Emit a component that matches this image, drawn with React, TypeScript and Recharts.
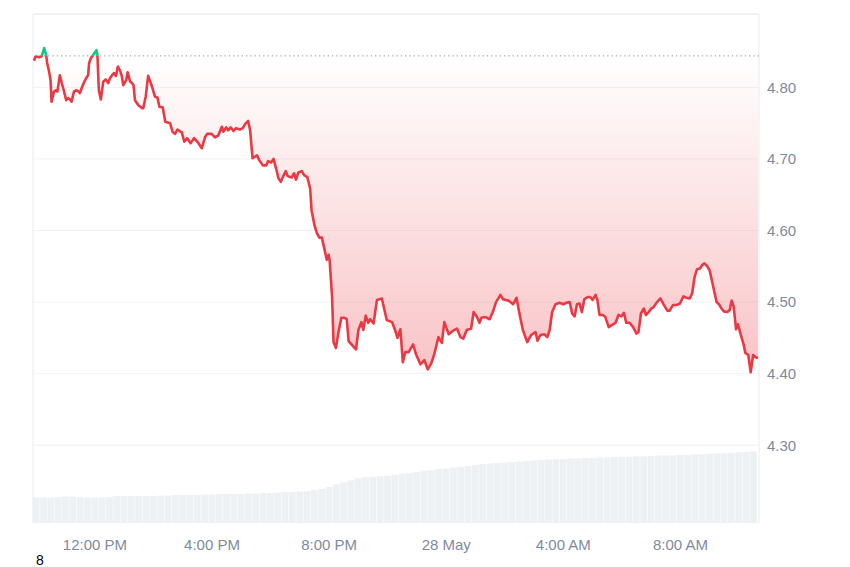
import { ComposedChart, BarChart, Line, Area, Bar, XAxis, YAxis, CartesianGrid, ReferenceLine } from "recharts";

const FONT = '"Liberation Sans", Arial, Helvetica, sans-serif';
const RED = '#ea3943';
const GREEN = '#16c784';
const AXIS_TEXT = '#808a9d';
const GRID = '#eff2f5';

// minutes since 00:00, 27 May
const priceTimes = [
    595, 598, 602, 605, 609, 611, 616, 620, 622, 626,
    629, 631, 636, 640, 643, 648, 652, 656, 661, 665,
    669, 672, 677, 681, 685, 689, 693, 697, 702, 706,
    708, 712, 716, 723, 725, 728, 732, 737, 742, 747,
    751, 755, 759, 763, 767, 771, 775, 778, 784, 787,
    792, 796, 799, 802, 809, 816, 819, 824, 829, 836,
    843, 848, 852, 859, 864, 874, 879, 884, 889, 898,
    903, 909, 916, 923, 930, 939, 946, 950, 959, 966,
    973, 980, 983, 989, 993, 998, 1004, 1009, 1017, 1023,
    1028, 1034, 1038, 1043, 1052, 1057, 1064, 1071, 1075, 1081,
    1086, 1093, 1096, 1101, 1106, 1111, 1115, 1123, 1128, 1132,
    1137, 1144, 1149, 1155, 1161, 1164, 1170, 1175, 1180, 1185,
    1190, 1195, 1199, 1201, 1206, 1209, 1214, 1219, 1225, 1231,
    1236, 1240, 1247, 1255, 1260, 1266, 1270, 1275, 1280, 1284,
    1291, 1298, 1308, 1318, 1329, 1335, 1340, 1346, 1351, 1356,
    1363, 1372, 1378, 1387, 1395, 1402, 1409, 1415, 1424, 1431,
    1436, 1445, 1454, 1462, 1469, 1475, 1482, 1491, 1496, 1503,
    1508, 1512, 1520, 1529, 1537, 1542, 1551, 1556, 1568, 1577,
    1584, 1590, 1597, 1606, 1614, 1623, 1627, 1633, 1641, 1647,
    1652, 1657, 1664, 1672, 1680, 1686, 1693, 1698, 1703, 1708,
    1713, 1718, 1723, 1730, 1735, 1740, 1746, 1750, 1754, 1761,
    1766, 1773, 1780, 1787, 1793, 1799, 1804, 1809, 1816, 1823,
    1830, 1834, 1839, 1845, 1849, 1855, 1860, 1865, 1872, 1879,
    1886, 1893, 1898, 1905, 1912, 1919, 1926, 1932, 1939, 1944,
    1949, 1954, 1960, 1965, 1969, 1975, 1980, 1987, 1994, 1999,
    2004, 2009, 2016, 2021, 2025, 2029, 2034, 2038, 2043, 2049,
    2053, 2059, 2064, 2069, 2074, 2079,
];

const prices = [
    4.837, 4.843, 4.843, 4.842, 4.843, 4.844, 4.855, 4.845, 4.834, 4.822,
    4.810, 4.780, 4.794, 4.796, 4.794, 4.817, 4.806, 4.796, 4.782, 4.785,
    4.783, 4.780, 4.794, 4.796, 4.795, 4.792, 4.799, 4.806, 4.813, 4.817,
    4.834, 4.841, 4.845, 4.852, 4.845, 4.796, 4.783, 4.808, 4.811, 4.806,
    4.813, 4.817, 4.820, 4.816, 4.829, 4.824, 4.816, 4.803, 4.810, 4.821,
    4.808, 4.806, 4.803, 4.782, 4.775, 4.771, 4.771, 4.787, 4.816, 4.803,
    4.787, 4.786, 4.773, 4.772, 4.752, 4.750, 4.738, 4.735, 4.741, 4.737,
    4.724, 4.729, 4.722, 4.729, 4.724, 4.715, 4.731, 4.735, 4.735, 4.730,
    4.733, 4.745, 4.738, 4.744, 4.740, 4.744, 4.739, 4.743, 4.741, 4.743,
    4.749, 4.753, 4.740, 4.701, 4.705, 4.698, 4.691, 4.691, 4.697, 4.695,
    4.700, 4.682, 4.673, 4.668, 4.676, 4.683, 4.676, 4.674, 4.680, 4.671,
    4.681, 4.683, 4.677, 4.675, 4.659, 4.628, 4.607, 4.596, 4.590, 4.590,
    4.575, 4.559, 4.566, 4.558, 4.507, 4.444, 4.436, 4.458, 4.478, 4.478,
    4.476, 4.445, 4.440, 4.434, 4.461, 4.472, 4.461, 4.481, 4.471, 4.476,
    4.470, 4.503, 4.505, 4.475, 4.472, 4.461, 4.450, 4.462, 4.416, 4.430,
    4.430, 4.441, 4.427, 4.413, 4.419, 4.406, 4.414, 4.426, 4.451, 4.443,
    4.472, 4.455, 4.460, 4.463, 4.451, 4.449, 4.461, 4.463, 4.486, 4.479,
    4.471, 4.478, 4.479, 4.476, 4.489, 4.500, 4.510, 4.504, 4.502, 4.497,
    4.506, 4.484, 4.461, 4.444, 4.454, 4.458, 4.446, 4.454, 4.455, 4.451,
    4.461, 4.486, 4.497, 4.499, 4.497, 4.499, 4.500, 4.484, 4.480, 4.497,
    4.498, 4.486, 4.504, 4.507, 4.507, 4.503, 4.510, 4.502, 4.482, 4.482,
    4.479, 4.465, 4.468, 4.471, 4.482, 4.480, 4.485, 4.471, 4.471, 4.465,
    4.456, 4.458, 4.484, 4.491, 4.482, 4.486, 4.491, 4.493, 4.500, 4.505,
    4.496, 4.488, 4.488, 4.496, 4.496, 4.498, 4.508, 4.506, 4.505, 4.512,
    4.535, 4.546, 4.547, 4.552, 4.554, 4.550, 4.544, 4.522, 4.500, 4.497,
    4.491, 4.487, 4.486, 4.489, 4.502, 4.494, 4.462, 4.469, 4.456, 4.442,
    4.429, 4.426, 4.402, 4.426, 4.423, 4.422,
];

// 15 minute volume bars (M), first bar at 10:00 AM
const volumes = [
    49, 49, 49, 50, 51, 51, 50, 49, 49, 49,
    50, 52, 52, 52, 52, 52, 52, 53, 53, 54,
    54, 54, 54, 55, 55, 56, 56, 56, 56, 57,
    57, 58, 58, 59, 60, 60, 61, 62, 64, 66,
    70, 75, 79, 83, 87, 89, 90, 91, 92, 94,
    96, 97, 99, 102, 103, 105, 106, 108, 109, 111,
    113, 115, 116, 117, 118, 119, 120, 121, 122, 123,
    124, 125, 125, 126, 126, 127, 127, 128, 128, 129,
    129, 129, 130, 130, 131, 132, 132, 132, 133, 133,
    134, 134, 135, 136, 136, 137, 138, 139, 140,
];
const volumeTimes = volumes.map((_, i) => 600 + i * 15);

const openPrice = 4.844;
const xDomain = [593, 2081];
const yDomain = [4.192, 4.9025];

const xTicks = [720, 960, 1200, 1440, 1680, 1920];
const xTickLabels = ['12:00 PM', '4:00 PM', '8:00 PM', '28 May', '4:00 AM', '8:00 AM'];
const yTicks = [4.3, 4.4, 4.5, 4.6, 4.7, 4.8];

const priceData = priceTimes.map((t, i) => ({ t, price: prices[i] }));
const volumeData = volumeTimes.map((t, i) => ({ t, volume: volumes[i] }));

const pMax = Math.max(...prices);
const pMin = Math.min(...prices);
const split = (pMax - openPrice) / (pMax - pMin);

const X_AXIS_H = 44.5;
const Y_AXIS_W = 91;
const MARGIN = { top: 14, right: 0, bottom: 0, left: 33 };
const LAYER: React.CSSProperties = { position: 'absolute', left: 0, top: 0 };

export default function App() {
    return (
        <div style={{ position: 'absolute', left: 0, top: 0, width: 850, height: 567, background: '#fff', fontFamily: FONT }}>
            {/* volume underlay: hidden axes take no room, so the margin stands in for them */}
            <div style={LAYER}>
                <BarChart width={850} height={567} data={volumeData}
                    margin={{ ...MARGIN, right: Y_AXIS_W, bottom: X_AXIS_H }}>
                    <XAxis dataKey="t" type="number" domain={xDomain} allowDataOverflow hide />
                    <YAxis domain={[0, 1000]} hide />
                    <Bar dataKey="volume" fill="#eef1f4" barSize={6.9} isAnimationActive={false} />
                </BarChart>
            </div>

            {/* price chart */}
            <div style={LAYER}>
                <ComposedChart width={850} height={567} data={priceData} margin={MARGIN}>
                    <defs>
                        <linearGradient id="priceStroke" x1="0" y1="0" x2="0" y2="1">
                            <stop offset={0} stopColor={GREEN} />
                            <stop offset={split} stopColor={GREEN} />
                            <stop offset={split} stopColor={RED} />
                            <stop offset={1} stopColor={RED} />
                        </linearGradient>
                        <linearGradient id="priceFill" x1="0" y1="0" x2="0" y2="1">
                            <stop offset={0} stopColor={GREEN} stopOpacity={0.15} />
                            <stop offset={split} stopColor={GREEN} stopOpacity={0.03} />
                            <stop offset={split} stopColor={RED} stopOpacity={0.0} />
                            <stop offset={1} stopColor={RED} stopOpacity={0.3} />
                        </linearGradient>
                    </defs>
                    <CartesianGrid vertical={false} stroke={GRID} strokeWidth={1} />
                    <XAxis
                        dataKey="t"
                        type="number"
                        domain={xDomain}
                        ticks={xTicks}
                        interval={0}
                        allowDataOverflow
                        tickFormatter={(v) => xTickLabels[xTicks.indexOf(v)]}
                        axisLine={false}
                        tickLine={false}
                        tickMargin={11}
                        height={X_AXIS_H}
                        tick={{ fill: AXIS_TEXT, fontSize: 15 }}
                    />
                    <YAxis
                        orientation="right"
                        domain={yDomain}
                        ticks={yTicks}
                        interval={0}
                        allowDataOverflow
                        tickFormatter={(v) => Number(v).toFixed(2)}
                        axisLine={false}
                        tickLine={false}
                        width={Y_AXIS_W}
                        tick={{ fill: AXIS_TEXT, fontSize: 15 }}
                    />
                    <ReferenceLine x={xDomain[0]} stroke="#e8ebef" />
                    <ReferenceLine x={xDomain[1]} stroke="#e8ebef" />
                    <ReferenceLine y={yDomain[1]} stroke="#e8ebef" />
                    <Area
                        dataKey="price"
                        type="linear"
                        baseValue={openPrice}
                        stroke="none"
                        fill="url(#priceFill)"
                        fillOpacity={1}
                        isAnimationActive={false}
                    />
                    <ReferenceLine y={openPrice} stroke="#a3a9b4" strokeWidth={1.3} strokeDasharray="1.3 3" />
                    <Line
                        dataKey="price"
                        type="linear"
                        dot={false}
                        stroke="url(#priceStroke)"
                        strokeWidth={2.6}
                        strokeLinejoin="round"
                        isAnimationActive={false}
                    />
                </ComposedChart>
            </div>
            <div style={{ position: 'absolute', left: 36, top: 552, fontSize: 14, lineHeight: '16px', color: '#000' }}>8</div>
        </div>
    );
}
